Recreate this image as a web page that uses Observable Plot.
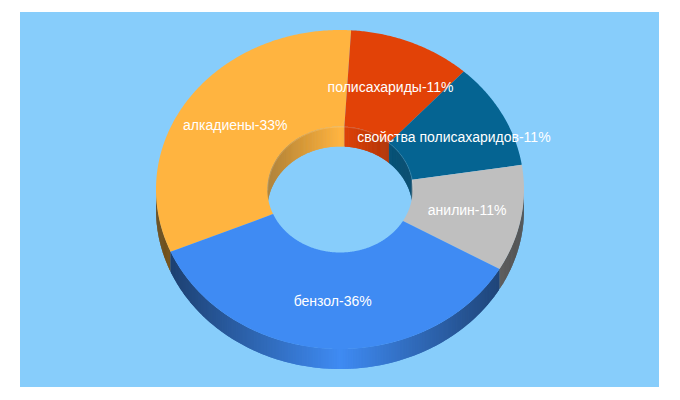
<!DOCTYPE html>
<html>
<head>
<meta charset="utf-8">
<script src="https://cdn.jsdelivr.net/npm/d3@7"></script>
<script src="https://cdn.jsdelivr.net/npm/@observablehq/plot@0.6"></script>
<style>
html,body{margin:0;padding:0;background:#fff}
#chart{position:absolute;left:20px;top:12px}
</style>
</head>
<body>
<div id="chart"></div>
<script>
const names = ["алкадиены", "полисахариды", "свойства полисахаридов", "анилин", "бензол"];
const percents = [33, 11, 11, 11, 36];
const colors = ["#ffb440", "#e24207", "#056492", "#bfbfbf", "#3f8bf3"];
const background = "#87cdfb";

const W = 639, H = 375;
const rx = 184, ry = 159.5, cx = 320, cy = 177.5, depth = 20 / ry;
const hole = 0.395, labelRadius = 0.7, startAngle = 247, step = 0.5;

const total = d3.sum(percents);
let acc = startAngle;
const slices = names.map((name, i) => {
  const a0 = acc;
  acc += percents[i] / total * 360;
  return {name, pct: percents[i], color: colors[i], a0, a1: acc};
});

const rad = a => a * Math.PI / 180;
const px = (a, r) => r * Math.sin(rad(a));
const py = (a, r) => -r * Math.cos(rad(a));
const shade = (c, f) => { const k = d3.rgb(c); return d3.rgb(k.r * f, k.g * f, k.b * f).formatHex(); };

// wall strips for the visible part of a cylinder, shaded by horizontal position
function wall(r, lo, hi, strength) {
  const rows = [];
  let id = 0;
  for (const s of slices) for (const k of [0, 360]) {
    const a = Math.max(s.a0 + k, lo), b = Math.min(s.a1 + k, hi);
    for (let t = a; t < b; t += step) {
      const fill = shade(s.color, 1 - strength * Math.abs(Math.sin(rad(t + step / 2))));
      id++;
      for (const u of [t, Math.min(t + 2 * step, b)]) {
        rows.push({id, fill, x: px(u, r), y1: py(u, r), y2: py(u, r) + depth});
      }
    }
  }
  return rows;
}

const face = slices.flatMap((s, i) => {
  const n = Math.ceil((s.a1 - s.a0) / step);
  return d3.range(n + 1).map(j => {
    const t = s.a0 + (s.a1 - s.a0) * j / n;
    return {i, fill: s.color, x1: px(t, 1), y1: py(t, 1), x2: px(t, hole), y2: py(t, hole)};
  });
});

const rimArc = d3.range(270, 450 + step, step).map(t => ({x: px(t, hole), y: py(t, hole)}));

const labels = slices.map(s => {
  const m = (s.a0 + s.a1) / 2;
  return {x: px(m, labelRadius), y: py(m, labelRadius), text: `${s.name}-${s.pct}%`};
});

const wallMark = rows => Plot.area(rows, {
  x1: "x", x2: "x", y1: "y1", y2: "y2", z: "id", fill: "fill", curve: "linear"
});

const chart = Plot.plot({
  width: W, height: H, margin: 0,
  style: {background, fontFamily: "'Liberation Sans', Arial, sans-serif"},
  x: {domain: [-cx / rx, (W - cx) / rx], range: [0, W], axis: null},
  y: {domain: [-cy / ry, (H - cy) / ry], range: [0, H], axis: null},
  color: {type: "identity"},
  marks: [
    wallMark(wall(1, 450, 630, 0.58)),
    wallMark(wall(hole, 270, 450, 0.3)),
    Plot.area(face, {x1: "x1", y1: "y1", x2: "x2", y2: "y2", z: "i", fill: "fill", curve: "linear"}),
    Plot.line(rimArc, {x: "x", y: "y", stroke: "white", strokeOpacity: 0.2, strokeWidth: 0.8, curve: "linear"}),
    Plot.text(labels, {x: "x", y: "y", text: "text", fill: "white", fontSize: 14})
  ]
});
document.getElementById("chart").append(chart);
</script>
</body>
</html>
